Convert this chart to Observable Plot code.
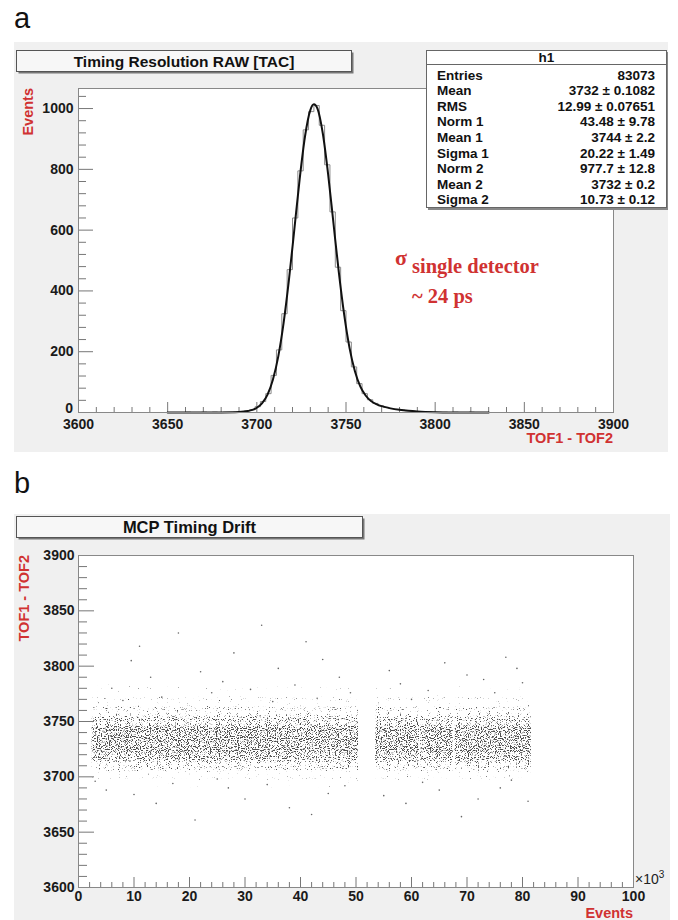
<!DOCTYPE html>
<html><head><meta charset="utf-8">
<script src="https://cdn.jsdelivr.net/npm/d3@7"></script>
<script src="https://cdn.jsdelivr.net/npm/@observablehq/plot@0.6"></script>
<style>
body{margin:0;background:#fff;}
#wrap{position:relative;width:678px;height:920px;overflow:hidden;font-family:"Liberation Sans",Arial,sans-serif;}
#wrap svg{position:absolute;}
</style></head><body><div id="wrap"></div>
<script>
// ---------- DATA (panel a) ----------
const histStart = 3651, histWidth = 3;
const histCounts = [0,0,0,1,0,0,1,0,1,0, 1,1,2,2,5,9,19,36,62,122,
  206,325,470,640,795,930,990,1010,945,815, 660,478,335,232,150,95,62,42,30,22,
  17,13,10,8,6,4,3,3,2,1, 1,1,0,1,0,0,1,0,0,0];
const fitX = [3650,3660,3670,3680,3690,3695,3700,3703,3706,3709,3712,3715,3718,3721,3724,3727,3730,3732,3734,3737,3740,3743,3746,3749,3752,3755,3758,3761,3764,3767,3770,3775,3780,3785,3790,3800,3810,3820,3830];
const fitY = [0,0,0.05,0.3,1.7,4.9,15.5,31,59,108,184,294,436,601,767,908,995,1014,1000,918,783,621,460,321,212,136,86,56,38,27.6,20.9,13.6,8.9,5.6,3.3,0.94,0.21,0.05,0];
const topXTicks = [3600,3650,3700,3750,3800,3850,3900];
const topYTicks = [0,200,400,600,800,1000];
const statNames = ["Entries","Mean","RMS","Norm 1","Mean 1","Sigma 1","Norm 2","Mean 2","Sigma 2"];
const statValues = ["83073","3732 \u00b1 0.1082","12.99 \u00b1 0.07651","43.48 \u00b1 9.78","3744 \u00b1 2.2","20.22 \u00b1 1.49","977.7 \u00b1 12.8","3732 \u00b1 0.2","10.73 \u00b1 0.12"];

// ---------- DATA (panel b) ----------
const segStart = [2.5, 53.6, 61.7, 67.9];   // x 10^3 events
const segEnd   = [50.4, 61.4, 67.5, 81.6];
// density layers of the drift band, sparse -> dense (TOF1 - TOF2)
const bandLow  = [3690, 3698, 3704, 3708, 3712, 3716, 3720];
const bandHigh = [3785, 3772, 3763, 3757, 3752, 3748, 3744];
const outX = [9.5,13,18,22,26,28,33,36,41,44,47,24,6,15,31,39,49,56,58,63,66,70,73,77,79,80,60,75,11,35,43,8,
  5,10,14,21,27,30,38,45,48,17,34,55,59,65,69,72,76,81,42,25,3,62,78];
const outY = [3805,3790,3830,3795,3786,3812,3837,3798,3822,3806,3790,3776,3780,3772,3779,3783,3776,3796,3784,3778,3803,3792,3788,3808,3798,3785,3770,3776,3818,3768,3771,3769,
  3688,3684,3676,3661,3690,3680,3672,3685,3692,3694,3693,3683,3676,3688,3664,3680,3690,3678,3666,3698,3696,3695,3697];
const botXTicks = [0,10,20,30,40,50,60,70,80,90,100];
const botYTicks = [3600,3650,3700,3750,3800,3850,3900];

// ---------- build ----------
const wrap = document.getElementById("wrap");
const FONT = "'Liberation Sans', Arial, Helvetica, sans-serif";
const RED = "#d03232";

// panel a
const hist = histCounts.map((c,i)=>({x: histStart + i*histWidth, y: c}));
hist.push({x: histStart + histCounts.length*histWidth, y: histCounts[histCounts.length-1]});
const fit = fitX.map((x,i)=>({x, y: fitY[i]}));
const topMinorX = d3.range(3600, 3901, 10).filter(v => !topXTicks.includes(v));
const topMinorY = d3.range(0, 1061, 40).filter(v => !topYTicks.includes(v));

const aW = 654, aH = 410, aML = 64, aMR = 55, aMT = 46, aMB = 40;
const aPW = aW - aML - aMR, aPH = aH - aMT - aMB;
const chartA = Plot.plot({
  width: aW, height: aH,
  marginLeft: aML, marginRight: aMR, marginTop: aMT, marginBottom: aMB,
  style: {background: "#f0f0f0", fontFamily: FONT, fontSize: "14px", fontWeight: "bold", color: "#1a1a1a"},
  x: {domain: [3600, 3900], ticks: topXTicks, tickSize: 0, tickPadding: 7, tickFormat: d => String(d), label: null},
  y: {domain: [0, 1066], ticks: topYTicks, tickSize: 0, tickPadding: 5, tickFormat: d => d === 0 ? "" : String(d), label: null},
  marks: [
    Plot.frame({fill: "white", stroke: "none"}),
    Plot.ruleX(topXTicks, {x: d => d, insetTop: aPH - 10, stroke: "#777"}),
    Plot.ruleX(topMinorX, {x: d => d, insetTop: aPH - 5, stroke: "#777"}),
    Plot.ruleY(topYTicks, {y: d => d, insetRight: aPW - 15, stroke: "#777"}),
    Plot.ruleY(topMinorY, {y: d => d, insetRight: aPW - 8, stroke: "#777"}),
    Plot.line(hist, {x: "x", y: "y", curve: "step-after", stroke: "#8a8a8a", strokeWidth: 1}),
    Plot.line(fit, {x: "x", y: "y", curve: "monotone-x", stroke: "#111", strokeWidth: 2}),
    Plot.frame({stroke: "#888"})
  ]
});
chartA.style.left = "14px"; chartA.style.top = "42px";
wrap.appendChild(chartA);

// panel b
const botMinorX = d3.range(0, 101, 2).filter(v => !botXTicks.includes(v));
const botMinorY = d3.range(3600, 3901, 10).filter(v => !botYTicks.includes(v));
const outliers = outX.map((x,i)=>({x, y: outY[i]}));
const layerFills = bandLow.map((_, i) => "#00000" + (i + 1));
const layerMarks = bandLow.map((lo, li) => {
  const rows = segStart.map((s, j) => ({x1: s, x2: segEnd[j], y1: lo, y2: bandHigh[li]}));
  return Plot.rect(rows, {x1: "x1", x2: "x2", y1: "y1", y2: "y2", fill: layerFills[li]});
});
const bW = 656, bH = 406, bML = 64, bMR = 37, bMT = 41, bMB = 33;
const bPW = bW - bML - bMR, bPH = bH - bMT - bMB;
const chartB = Plot.plot({
  width: bW, height: bH,
  marginLeft: bML, marginRight: bMR, marginTop: bMT, marginBottom: bMB,
  style: {background: "#f0f0f0", fontFamily: FONT, fontSize: "14px", fontWeight: "bold", color: "#1a1a1a"},
  x: {domain: [0, 100], ticks: botXTicks, tickSize: 0, tickPadding: 4, tickFormat: d => String(d), label: null},
  y: {domain: [3600, 3900], ticks: botYTicks, tickSize: 0, tickPadding: 4, tickFormat: d => String(d), label: null},
  marks: [
    Plot.frame({fill: "white", stroke: "none"}),
    ...layerMarks,
    Plot.dot(outliers, {x: "x", y: "y", r: 0.8, fill: "#666", stroke: null}),
    Plot.ruleX(botXTicks, {x: d => d, insetTop: bPH - 10, stroke: "#777"}),
    Plot.ruleX(botMinorX, {x: d => d, insetTop: bPH - 5, stroke: "#777"}),
    Plot.ruleY(botYTicks, {y: d => d, insetRight: bPW - 16, stroke: "#777"}),
    Plot.ruleY(botMinorY, {y: d => d, insetRight: bPW - 9, stroke: "#777"}),
    Plot.frame({stroke: "#888"})
  ]
});
chartB.style.left = "14px"; chartB.style.top = "514px";
wrap.appendChild(chartB);

// stipple filters (style) for the scatter band
const thresholds = [0.74, 0.69, 0.645, 0.60, 0.565, 0.535, 0.51];
const svgB = d3.select(chartB);
const defs = svgB.insert("defs", ":first-child");
thresholds.forEach((t, i) => {
  const f = defs.append("filter").attr("id", "stip" + i)
    .attr("x", 0).attr("y", 0).attr("width", 1).attr("height", 1)
    .attr("color-interpolation-filters", "sRGB");
  f.append("feTurbulence").attr("type", "fractalNoise").attr("baseFrequency", 0.9)
    .attr("numOctaves", 1).attr("seed", 11).attr("result", "n");
  const k = 8;
  f.append("feColorMatrix").attr("in", "n").attr("type", "matrix")
    .attr("values", `0 0 0 0 0.3  0 0 0 0 0.3  0 0 0 0 0.3  ${k} 0 0 0 ${-k*t}`).attr("result", "d");
  f.append("feComposite").attr("in", "d").attr("in2", "SourceGraphic").attr("operator", "in");
});
svgB.selectAll("g").each(function() {
  const f = (this.getAttribute("fill") || "").toLowerCase();
  const idx = layerFills.indexOf(f);
  if (idx >= 0) this.setAttribute("filter", `url(#stip${idx})`);
});

// ---------- overlay texts and boxes ----------
const ov = d3.select(wrap).append("svg").attr("width", 678).attr("height", 920)
  .style("left", "0px").style("top", "0px").style("font-family", FONT);

ov.append("text").attr("x", 14).attr("y", 28).attr("font-size", 29).attr("fill", "#111").text("a");
ov.append("text").attr("x", 14).attr("y", 493).attr("font-size", 29).attr("fill", "#111").text("b");
// y-axis "0" of panel a, nudged just above the x tick labels
ov.append("text").attr("x", 73).attr("y", 413).attr("text-anchor", "end").attr("font-size", 14)
  .attr("font-weight", "bold").attr("fill", "#1a1a1a").text(String(topYTicks[0]));

function titleBox(x, y, w, h, label, fs) {
  ov.append("rect").attr("x", x + 2).attr("y", y + 2).attr("width", w).attr("height", h).attr("fill", "#777");
  ov.append("rect").attr("x", x).attr("y", y).attr("width", w).attr("height", h)
    .attr("fill", "#f7f7f7").attr("stroke", "#555").attr("stroke-width", 1);
  ov.append("text").attr("x", x + w / 2).attr("y", y + h / 2 + fs * 0.36).attr("text-anchor", "middle")
    .attr("font-size", fs).attr("font-weight", "bold").attr("fill", "#111").text(label);
}
titleBox(16.5, 50.5, 335, 21, "Timing Resolution RAW [TAC]", 15.5);
titleBox(16.5, 516.5, 346, 21, "MCP Timing Drift", 16.5);

// stats box
ov.append("rect").attr("x", 428).attr("y", 52).attr("width", 240).attr("height", 158).attr("fill", "#888");
ov.append("rect").attr("x", 426.5).attr("y", 50.5).attr("width", 240).attr("height", 157)
  .attr("fill", "white").attr("stroke", "#666");
ov.append("line").attr("x1", 426.5).attr("x2", 666.5).attr("y1", 64.5).attr("y2", 64.5).attr("stroke", "#666");
ov.append("text").attr("x", 546.5).attr("y", 62).attr("text-anchor", "middle").attr("font-size", 13.5)
  .attr("font-weight", "bold").attr("fill", "#111").text("h1");
statNames.forEach((n, i) => {
  const y = 79.5 + i * 15.6;
  ov.append("text").attr("x", 437).attr("y", y).attr("font-size", 13.5).attr("font-weight", "bold").attr("fill", "#111").text(n);
  ov.append("text").attr("x", 655).attr("y", y).attr("text-anchor", "end").attr("font-size", 13.5).attr("font-weight", "bold").attr("fill", "#111").text(statValues[i]);
});

// axis titles
ov.append("text").attr("transform", "translate(33,88) rotate(-90)").attr("text-anchor", "end")
  .attr("font-size", 14.5).attr("font-weight", "bold").attr("fill", RED).text("Events");
ov.append("text").attr("x", 613).attr("y", 443).attr("text-anchor", "end")
  .attr("font-size", 14.5).attr("font-weight", "bold").attr("fill", RED).text("TOF1 - TOF2");
ov.append("text").attr("transform", "translate(29,555) rotate(-90)").attr("text-anchor", "end")
  .attr("font-size", 14.5).attr("font-weight", "bold").attr("fill", RED).text("TOF1 - TOF2");
ov.append("text").attr("x", 633).attr("y", 918).attr("text-anchor", "end")
  .attr("font-size", 14.5).attr("font-weight", "bold").attr("fill", RED).text("Events");
const mult = ov.append("text").attr("x", 635).attr("y", 884).attr("font-size", 14).attr("fill", "#222");
mult.append("tspan").text("\u00d710");
mult.append("tspan").attr("dy", -6).attr("font-size", 10).text("3");

// annotation
const SERIF = "'Liberation Serif', 'Times New Roman', serif";
ov.append("text").attr("x", 395).attr("y", 265).attr("font-family", SERIF).attr("font-size", 22)
  .attr("font-weight", "bold").attr("fill", RED).text("\u03c3");
ov.append("text").attr("x", 412).attr("y", 273).attr("font-family", SERIF).attr("font-size", 20.5)
  .attr("font-weight", "bold").attr("fill", RED).text("single detector");
ov.append("text").attr("x", 412).attr("y", 303).attr("font-family", SERIF).attr("font-size", 20.5)
  .attr("font-weight", "bold").attr("fill", RED).text("~ 24 ps");
</script>
</body></html>
